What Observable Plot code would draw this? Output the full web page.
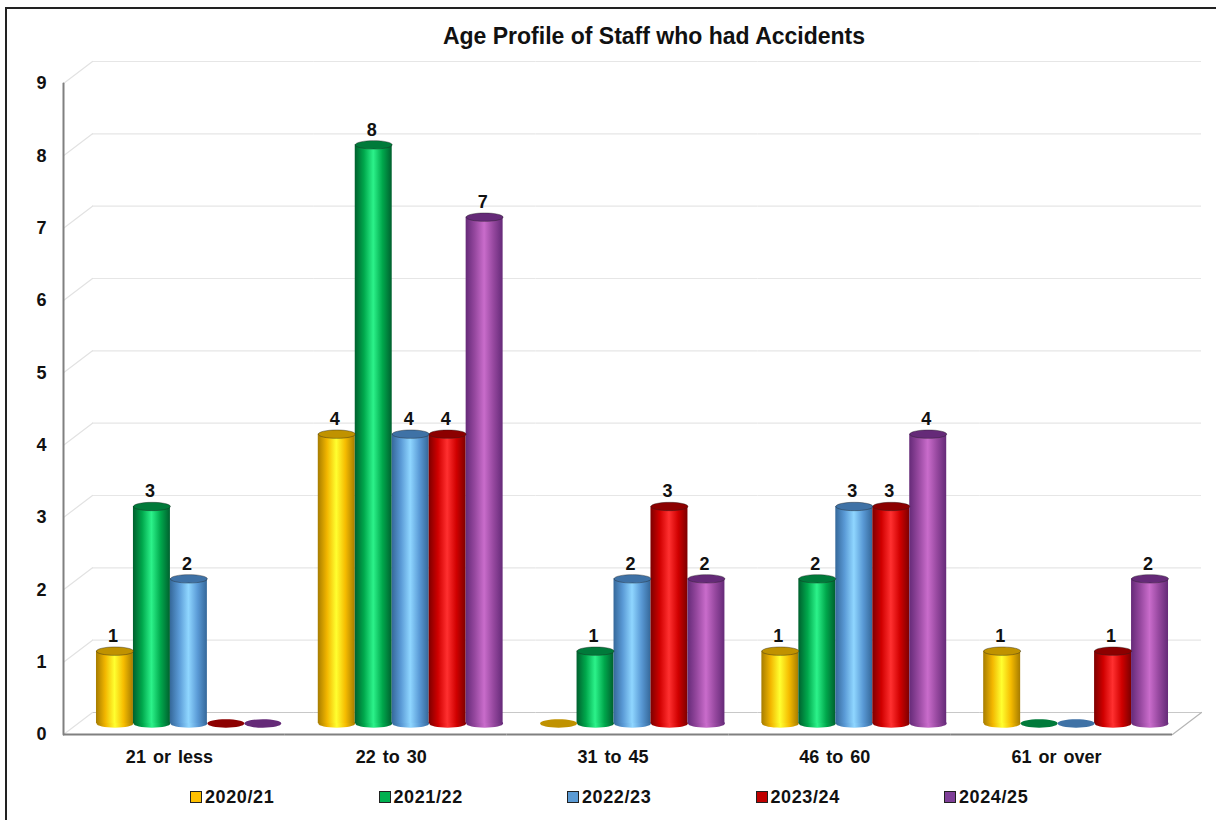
<!DOCTYPE html>
<html>
<head>
<meta charset="utf-8">
<script src="https://cdn.jsdelivr.net/npm/d3@7"></script>
<script src="https://cdn.jsdelivr.net/npm/@observablehq/plot@0.6"></script>
<style>
  html, body { margin: 0; padding: 0; background: #fff; overflow: hidden; }
  body { width: 1216px; height: 820px; position: relative; font-family: "Liberation Sans", Arial, sans-serif; font-weight: bold; color: #111; }
  #border { position: absolute; left: 5px; top: 7px; right: -4px; bottom: -4px; border: 2px solid #222; pointer-events: none; }
  #title { position: absolute; left: 92px; width: 1124px; top: 22px; text-align: center; font-size: 23px; line-height: 28px; }
  #chart { position: absolute; left: 0; top: 50px; }
  #legend { position: absolute; left: 190px; top: 785px; display: flex; }
  .item { width: 188.5px; display: flex; align-items: center; font-size: 18px; line-height: 24px; letter-spacing: 0.6px; }
  .swatch { width: 10px; height: 10px; border: 1px solid #222; margin-right: 3px; }
</style>
</head>
<body>
<div id="border"></div>
<div id="title"></div>
<div id="chart"></div>
<div id="legend"></div>
<script>
const chartTitle = "Age Profile of Staff who had Accidents";
const ageBands = ["21 or less", "22 to 30", "31 to 45", "46 to 60", "61 or over"];
const years = ["2020/21", "2021/22", "2022/23", "2023/24", "2024/25"];
const values2020 = [1, 4, 0, 1, 1];
const values2021 = [3, 8, 1, 2, 0];
const values2022 = [2, 4, 2, 3, 0];
const values2023 = [0, 4, 3, 3, 1];
const values2024 = [0, 7, 2, 4, 2];
const yTicks = [0, 1, 2, 3, 4, 5, 6, 7, 8, 9];
const swatchColors = ["#ffc000", "#00b050", "#5b9bd5", "#c00000", "#7f3f98"];
const capColors = ["#c09200", "#007a3a", "#3f72a6", "#8c0000", "#652a78"];
const shades = [
  ["#a67c00", "#f2b600", "#ffff30", "#f5bb00", "#a67c00"],
  ["#00602e", "#00a84c", "#2cf28a", "#00a84c", "#00602e"],
  ["#35689a", "#5a9ad6", "#8fd6ff", "#5a9ad6", "#35689a"],
  ["#7d0000", "#d00000", "#ff3030", "#d00000", "#7d0000"],
  ["#652a78", "#96489f", "#c96ccb", "#96489f", "#652a78"]
];

const seriesValues = [values2020, values2021, values2022, values2023, values2024];
const rows = years.flatMap((year, s) =>
  ageBands.map((age, a) => ({age, year, value: seriesValues[s][a]})));
const standing = rows.filter(d => d.value > 0);

// Depth of the pseudo-3D box, in pixels.
const depthX = 29, depthY = 22;
const midX = depthX / 2, midY = depthY / 2;

const capSymbol = {
  draw(ctx, size) {
    const rx = Math.sqrt(size / Math.PI), ry = 4.2, k = 0.5523;
    ctx.moveTo(-rx, 0);
    ctx.bezierCurveTo(-rx, -ry * k, -rx * k, -ry, 0, -ry);
    ctx.bezierCurveTo(rx * k, -ry, rx, -ry * k, rx, 0);
    ctx.bezierCurveTo(rx, ry * k, rx * k, ry, 0, ry);
    ctx.bezierCurveTo(-rx * k, ry, -rx, ry * k, -rx, 0);
    ctx.closePath();
  }
};
const strokeShape = {draw(ctx, l) { ctx.moveTo(0, 0); ctx.lineTo(0, -l); }};
const depthLen = Math.hypot(depthX, depthY);
const depthAngle = Math.atan2(depthX, depthY) * 180 / Math.PI;
const H = 730, MT = 33, MB = 46;

const chart = Plot.plot({
  width: 1216,
  height: H,
  marginTop: MT,
  marginBottom: MB,
  marginLeft: 63,
  marginRight: 44,
  style: {fontFamily: "'Liberation Sans', Arial, sans-serif", fontWeight: "bold", fontSize: "18px", color: "#111", background: "transparent", overflow: "visible", wordSpacing: "2px"},
  fx: {domain: ageBands, padding: 0, round: false, axis: null, label: null},
  x: {domain: years, paddingInner: 0, paddingOuter: 0.5, round: false, axis: null},
  y: {domain: [0, 9], ticks: yTicks, tickSize: 0, tickPadding: 17, label: null, tickFormat: d3.format("d")},
  color: {type: "ordinal", domain: years, range: years.map((_, i) => `url(#cyl${i})`)},
  marks: [
    Plot.axisFx({anchor: "bottom", label: null, tickSize: 0, tickPadding: 16, dx: -5}),
    // back wall grid and floor back edge
    Plot.ruleY(yTicks, {y: d => d, dx: depthX, dy: -depthY, stroke: d => d === 0 ? "#c8c8c8" : "#e6e6e6", strokeWidth: 1.2}),
    // side wall diagonals on the left
    Plot.vector(yTicks, {y: d => d, fx: () => ageBands[0], frameAnchor: "left", length: depthLen, rotate: depthAngle, anchor: "start", shape: strokeShape, stroke: "#e2e2e2", strokeWidth: 1.2}),
    // floor diagonal on the right
    Plot.vector([0], {y: d => d, fx: () => ageBands[4], frameAnchor: "right", length: depthLen, rotate: depthAngle, anchor: "start", shape: strokeShape, stroke: "#b5b5b5", strokeWidth: 1.2}),
    // front axis lines
    Plot.ruleY([0], {stroke: "#808080", strokeWidth: 2}),
    Plot.vector([0], {y: d => d, fx: () => ageBands[0], frameAnchor: "left", length: H - MT - MB, rotate: 0, anchor: "start", shape: strokeShape, stroke: "#808080", strokeWidth: 2}),
    // cylinder bases, bodies, caps
    Plot.dot(standing, {fx: "age", x: "year", y: () => 0, r: 18.5, symbol: capSymbol, fill: "year", stroke: "none", dx: midX, dy: -midY}),
    Plot.barY(standing, {fx: "age", x: "year", y: "value", fill: "year", dx: midX, dy: -midY}),
    Plot.dot(rows, {fx: "age", x: "year", y: "value", r: 18.5, symbol: capSymbol, fill: d => capColors[years.indexOf(d.year)], stroke: d => d.value > 0 ? "#222" : "none", strokeWidth: 0.4, dx: midX, dy: -midY}),
    // data labels
    Plot.text(standing, {fx: "age", x: "year", y: "value", text: "value", dx: 12.5, dy: -26, fill: "#111", fontSize: 18, fontWeight: "bold"})
  ]
});

// gradient definitions used by the color scale range
const ns = "http://www.w3.org/2000/svg";
const defs = document.createElementNS(ns, "defs");
shades.forEach((stops, i) => {
  const g = document.createElementNS(ns, "linearGradient");
  g.setAttribute("id", `cyl${i}`);
  g.setAttribute("x1", "0"); g.setAttribute("x2", "1"); g.setAttribute("y1", "0"); g.setAttribute("y2", "0");
  stops.forEach((c, j) => {
    const s = document.createElementNS(ns, "stop");
    s.setAttribute("offset", `${j * 25}%`);
    s.setAttribute("stop-color", c);
    g.appendChild(s);
  });
  defs.appendChild(g);
});
chart.prepend(defs);

document.getElementById("chart").appendChild(chart);
document.getElementById("title").textContent = chartTitle;
const legend = document.getElementById("legend");
years.forEach((y, i) => {
  const item = document.createElement("div");
  item.className = "item";
  const sw = document.createElement("span");
  sw.className = "swatch";
  sw.style.background = swatchColors[i];
  const t = document.createElement("span");
  t.textContent = y;
  item.append(sw, t);
  legend.appendChild(item);
});
</script>
</body>
</html>
